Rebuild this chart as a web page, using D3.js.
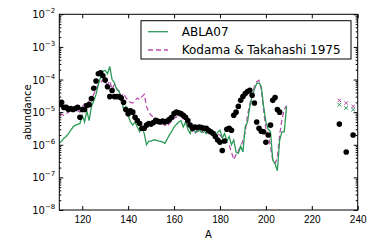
<!DOCTYPE html>
<html>
<head>
<meta charset="utf-8">
<script src="https://cdn.jsdelivr.net/npm/d3@7"></script>
<style>
  body { margin: 0; background: #fff; }
  svg { font-family: "DejaVu Sans", sans-serif; }
</style>
</head>
<body>
<svg></svg>
<script>
// mass numbers 110..209 for the curves and the solar points
var massA = d3.range(110, 210);

// ABLA07 (solid green)
var abla07 = [1.1e-6,1.3e-6,1.6e-6,1.8e-6,2.2e-6,2.8e-6,3.5e-6,4e-6,4.2e-6,4.5e-6,
  8e-6,5e-6,1.1e-5,5.5e-6,1.5e-5,2.2e-5,3.5e-5,7e-5,1.2e-4,1.8e-4,
  1.9e-4,1.5e-4,2.5e-4,1e-4,8e-5,5e-5,4.5e-5,2.8e-5,1.2e-5,1.5e-5,
  8e-6,5e-6,4e-6,5e-6,3.5e-6,2.5e-6,3.5e-6,2.2e-6,1e-6,1.3e-6,
  1.3e-6,1.4e-6,1.4e-6,1.3e-6,1.3e-6,1.2e-6,1.1e-6,1.5e-6,2e-6,2.6e-6,
  3.5e-6,4.2e-6,5e-6,5.5e-6,3.5e-6,5e-6,3e-6,2.2e-6,3.5e-6,2.5e-6,
  2.5e-6,2.8e-6,2.4e-6,2.8e-6,2.2e-6,2.6e-6,2.2e-6,2.6e-6,2e-6,2.4e-6,
  2.8e-6,1.6e-6,2.2e-6,1.3e-6,1.8e-6,1e-6,1.4e-6,6e-7,5.5e-7,9e-7,
  6e-7,3.5e-6,5e-6,1.5e-5,3e-5,5e-5,7.5e-5,8e-5,6e-5,1.5e-5,
  5e-6,3e-6,2.5e-6,3.4e-7,2.6e-7,1.6e-7,1.4e-6,2.5e-6,2.5e-6,1.5e-5];

// Kodama & Takahashi 1975 (dashed magenta)
var kodama = [9e-6,8.5e-6,8e-6,9e-6,1e-5,1.4e-5,1.2e-5,1.1e-5,1.1e-5,1e-5,
  1.4e-5,1.8e-5,2e-5,2.2e-5,2.5e-5,3.5e-5,5.5e-5,7e-5,8e-5,1e-4,
  8e-5,7e-5,9e-5,5e-5,7e-5,5.5e-5,4e-5,3e-5,3.7e-5,2.8e-5,
  2.3e-5,2e-5,1.9e-5,2.3e-5,2.7e-5,2.4e-5,3e-5,3.5e-5,1.5e-5,1e-5,
  8e-6,7e-6,6.5e-6,6e-6,5.5e-6,4.5e-6,4e-6,3.6e-6,4.5e-6,5.5e-6,
  6.5e-6,7e-6,8e-6,7.5e-6,6e-6,5e-6,4e-6,3.3e-6,2.6e-6,2.2e-6,
  2.7e-6,2.4e-6,2.8e-6,2.2e-6,2.6e-6,2.2e-6,2.5e-6,2.2e-6,2.4e-6,2.1e-6,
  2e-6,1.6e-6,1.3e-6,1.2e-6,1e-6,6e-7,3.5e-7,5e-7,6.5e-7,9e-7,
  1.3e-6,2.5e-6,8e-6,1.8e-5,3.5e-5,6e-5,8.6e-5,9.5e-5,5e-5,1.2e-5,
  3e-6,2e-6,9e-7,3.4e-7,2.7e-7,4e-7,2e-6,6e-6,1.2e-5,1.6e-5];

// solar r-process abundances (black dots)
var solar = [1.7e-5,2e-5,1.4e-5,1.4e-5,1.2e-5,1.3e-5,1.2e-5,1.3e-5,1.4e-5,7e-6,
  1.2e-5,1.2e-5,1.6e-5,1.7e-5,2.6e-5,5.4e-5,9e-5,1.5e-4,1.6e-4,1.3e-4,
  9.6e-5,6e-5,3e-5,4.6e-5,3e-5,3e-5,3e-5,2.7e-5,2e-5,1.2e-5,
  9e-6,1.1e-5,1e-5,7e-6,5.5e-6,4.5e-6,3.2e-6,3.2e-6,4e-6,4.5e-6,
  4.3e-6,4.8e-6,5.6e-6,5.2e-6,5e-6,5.3e-6,5e-6,5.3e-6,6e-6,7e-6,
  9e-6,1e-5,9.5e-6,9e-6,8e-6,7e-6,5.5e-6,4e-6,3.2e-6,3.5e-6,
  3.4e-6,3.5e-6,3.4e-6,3.2e-6,3.2e-6,2.8e-6,2.5e-6,2.2e-6,1.8e-6,1.4e-6,
  1.2e-6,6.7e-7,1.3e-6,3e-6,3.2e-6,2.8e-6,8e-6,1e-5,1.5e-5,2.3e-5,
  3e-5,3.7e-5,4.3e-5,4.7e-5,3.3e-5,1.9e-5,5e-6,3.2e-6,2.6e-6,2.5e-6,
  1.2e-6,2e-6,4e-6,2.3e-5,2.8e-5,1.2e-5,1e-5];
var solarA = massA.slice(0, solar.length);

// actinides
var actA = [232, 235, 238];
var actSolar = [4.3e-6, 6e-7, 2e-6];
var actKodama = [2.3e-5, 1.9e-5, 1.5e-5];
var actAbla = [1.7e-5, 1.35e-5, 1.2e-5];

var xTicks = [120, 140, 160, 180, 200, 220, 240];
var yExps = [-8, -7, -6, -5, -4, -3, -2];

var green = "#2b9a57", pink = "#b84fae";

var W = 368, H = 248;
var margin = {top: 14.3, right: 10.3, bottom: 38, left: 59.3};
var w = W - margin.left - margin.right, h = H - margin.top - margin.bottom;

var svg = d3.select("svg").attr("width", W).attr("height", H);
var g = svg.append("g").attr("transform", "translate(" + margin.left + "," + margin.top + ")");

var x = d3.scaleLinear().domain([110, 240]).range([0, w]);
var y = d3.scaleLog().domain([1e-8, 1e-2]).range([h, 0]);

g.append("clipPath").attr("id", "clip").append("rect").attr("width", w).attr("height", h);
var plot = g.append("g").attr("clip-path", "url(#clip)");

var line = d3.line()
  .x(function (d) { return x(d[0]); })
  .y(function (d) { return y(d[1]); });

plot.append("path")
  .attr("d", line(massA.map(function (a, i) { return [a, kodama[i]]; })))
  .attr("fill", "none").attr("stroke", pink).attr("stroke-width", 1.3)
  .attr("stroke-dasharray", "5,3");
plot.append("path")
  .attr("d", line(massA.map(function (a, i) { return [a, abla07[i]]; })))
  .attr("fill", "none").attr("stroke", green).attr("stroke-width", 1.3);

plot.selectAll("circle.solar")
  .data(solarA.map(function (a, i) { return [a, solar[i]]; }).concat(actA.map(function (a, i) { return [a, actSolar[i]]; })))
  .enter().append("circle")
  .attr("cx", function (d) { return x(d[0]); })
  .attr("cy", function (d) { return y(d[1]); })
  .attr("r", 2.8).attr("fill", "#000");

function crosses(vals, color) {
  var s = 1.8;
  plot.selectAll(null)
    .data(actA.map(function (a, i) { return [a, vals[i]]; }))
    .enter().append("path")
    .attr("d", function (d) {
      var cx = x(d[0]), cy = y(d[1]);
      return "M" + (cx - s) + "," + (cy - s) + "L" + (cx + s) + "," + (cy + s) +
        "M" + (cx - s) + "," + (cy + s) + "L" + (cx + s) + "," + (cy - s);
    })
    .attr("stroke", color).attr("stroke-width", 1).attr("fill", "none");
}
crosses(actKodama, pink);
crosses(actAbla, green);

// axes, ticks pointing inward
var yMajor = yExps.map(function (e) { return Math.pow(10, e); });
var yMinor = [];
for (var e = -8; e < -2; e++) {
  for (var m = 2; m <= 9; m++) yMinor.push(m * Math.pow(10, e));
}

g.append("g").attr("transform", "translate(0," + h + ")")
  .call(d3.axisBottom(x).tickValues(xTicks).tickSizeInner(-4).tickSizeOuter(0).tickPadding(6).tickFormat(d3.format("d")))
  .call(function (a) { a.select(".domain").remove(); a.selectAll("text").attr("font-size", 10).attr("fill", "#000"); });
g.append("g")
  .call(d3.axisTop(x).tickValues(xTicks).tickSizeInner(-4).tickSizeOuter(0).tickFormat(""))
  .call(function (a) { a.select(".domain").remove(); });

[["left", 0, d3.axisLeft], ["right", w, d3.axisRight]].forEach(function (s) {
  g.append("g").attr("transform", "translate(" + s[1] + ",0)")
    .call(s[2](y).tickValues(yMajor).tickSizeInner(-4).tickSizeOuter(0).tickFormat(""))
    .call(function (a) { a.select(".domain").remove(); });
  g.append("g").attr("transform", "translate(" + s[1] + ",0)")
    .call(s[2](y).tickValues(yMinor).tickSizeInner(-2).tickSizeOuter(0).tickFormat(""))
    .call(function (a) { a.select(".domain").remove(); });
});

// y tick labels 10^n
var ylab = g.append("g").selectAll("text").data(yExps).enter().append("text")
  .attr("x", -4).attr("y", function (d) { return y(Math.pow(10, d)) + 4; })
  .attr("text-anchor", "end").attr("font-size", 10);
ylab.append("tspan").text("10");
ylab.append("tspan").attr("font-size", 7).attr("dy", -5).text(function (d) { return "\u2212" + (-d); });

g.append("rect").attr("width", w).attr("height", h)
  .attr("fill", "none").attr("stroke", "#000").attr("stroke-width", 1);

g.append("text").attr("x", w / 2).attr("y", h + 28).attr("text-anchor", "middle")
  .attr("font-size", 10).text("A");
g.append("text").attr("transform", "translate(" + (-28) + "," + (h / 2) + ") rotate(-90)")
  .attr("text-anchor", "middle").attr("font-size", 10).text("abundance");

// legend
var leg = svg.append("g").attr("transform", "translate(141,20.7)");
leg.append("rect").attr("width", 210).attr("height", 38.3)
  .attr("fill", "#fff").attr("stroke", "#000").attr("stroke-width", 1);
var legItems = [["ABLA07", green, null], ["Kodama & Takahashi 1975", pink, "5,3"]];
legItems.forEach(function (it, i) {
  var ly = 11 + i * 18.3;
  leg.append("line").attr("x1", 7).attr("x2", 27).attr("y1", ly).attr("y2", ly)
    .attr("stroke", it[1]).attr("stroke-width", 1.3).attr("stroke-dasharray", it[2]);
  leg.append("text").attr("x", 40.7).attr("y", ly + 4.3).attr("font-size", 12).text(it[0]);
});
</script>
</body>
</html>
